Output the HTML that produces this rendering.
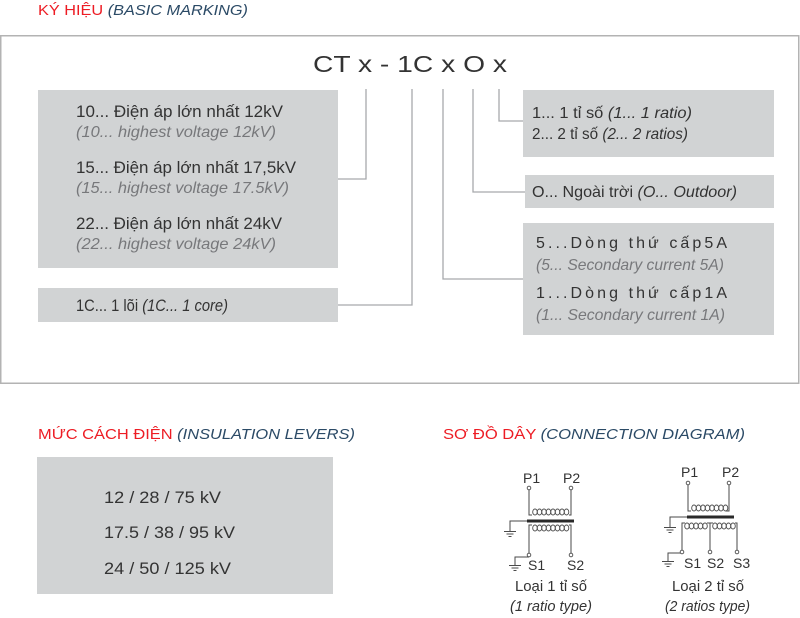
<!DOCTYPE html>
<html>
<head>
<meta charset="utf-8">
<style>
  html,body{margin:0;padding:0;background:#fff;}
  svg{display:block;font-family:"Liberation Sans","Noto Sans CJK SC",sans-serif;}
  .red{fill:#ed1c24;}
  .blue{fill:#2b4a66;font-style:italic;}
  .dk{fill:#333;}
  .gr{fill:#77787b;font-style:italic;}
  .it{font-style:italic;}
  .box{fill:#d1d3d4;}
  .cn{fill:none;stroke:#a7a9ac;stroke-width:1.3;}
  .w{fill:none;stroke:#4a4a4a;stroke-width:1;}
  .lp{fill:none;stroke:#4a4a4a;stroke-width:0.9;}
  .tm{fill:#fff;stroke:#4a4a4a;stroke-width:0.9;}
</style>
</head>
<body>
<svg width="800" height="618" viewBox="0 0 800 618" xmlns="http://www.w3.org/2000/svg">
  <!-- Header 1 -->
  <text x="38" y="15" font-size="15" textLength="210" lengthAdjust="spacingAndGlyphs"><tspan class="red">KÝ HIỆU </tspan><tspan class="blue">(BASIC MARKING)</tspan></text>

  <!-- Frame -->
  <rect x="0.75" y="35.75" width="798" height="347.5" fill="none" stroke="#b3b3b3" stroke-width="1.5"/>

  <!-- Title -->
  <text x="313" y="72" font-size="23" class="dk" textLength="194" lengthAdjust="spacingAndGlyphs">CT x - 1C x O x</text>

  <!-- Boxes -->
  <rect class="box" x="38" y="90" width="300" height="178"/>
  <rect class="box" x="38" y="288" width="300" height="34"/>
  <rect class="box" x="523" y="90" width="251" height="67"/>
  <rect class="box" x="525" y="175" width="249" height="33"/>
  <rect class="box" x="523" y="223" width="251" height="112"/>
  <rect class="box" x="37" y="457" width="296" height="137"/>

  <!-- Connectors -->
  <path class="cn" d="M366 89 V179 H338"/>
  <path class="cn" d="M412 89 V305 H338"/>
  <path class="cn" d="M443 89 V279 H523"/>
  <path class="cn" d="M473 89 V192 H525"/>
  <path class="cn" d="M499 89 V121 H523"/>

  <!-- Box A text -->
  <text x="76" y="117" font-size="17" class="dk" textLength="207" lengthAdjust="spacingAndGlyphs">10... Điện áp lớn nhất 12kV</text>
  <text x="76" y="137" font-size="16" class="gr" textLength="200" lengthAdjust="spacingAndGlyphs">(10... highest voltage 12kV)</text>
  <text x="76" y="173" font-size="17" class="dk" textLength="220" lengthAdjust="spacingAndGlyphs">15... Điện áp lớn nhất 17,5kV</text>
  <text x="76" y="193" font-size="16" class="gr" textLength="213" lengthAdjust="spacingAndGlyphs">(15... highest voltage 17.5kV)</text>
  <text x="76" y="229" font-size="17" class="dk" textLength="206" lengthAdjust="spacingAndGlyphs">22... Điện áp lớn nhất 24kV</text>
  <text x="76" y="249" font-size="16" class="gr" textLength="200" lengthAdjust="spacingAndGlyphs">(22... highest voltage 24kV)</text>

  <!-- Box B text -->
  <text x="76" y="311" font-size="17" class="dk" textLength="152" lengthAdjust="spacingAndGlyphs">1C... 1 lõi <tspan class="it">(1C... 1 core)</tspan></text>

  <!-- Box C text -->
  <text x="532" y="118" font-size="16" class="dk" textLength="160" lengthAdjust="spacingAndGlyphs">1... 1 tỉ số <tspan class="it">(1... 1 ratio)</tspan></text>
  <text x="532" y="139" font-size="16" class="dk" textLength="156" lengthAdjust="spacingAndGlyphs">2... 2 tỉ số <tspan class="it">(2... 2 ratios)</tspan></text>

  <!-- Box D text -->
  <text x="532" y="197" font-size="16" class="dk" textLength="205" lengthAdjust="spacingAndGlyphs">O... Ngoài trời <tspan class="it">(O... Outdoor)</tspan></text>

  <!-- Box E text -->
  <text x="536" y="248" font-size="16" class="dk" textLength="191" lengthAdjust="spacing">5...Dòng thứ cấp5A</text>
  <text x="536" y="270" font-size="16" class="gr" textLength="188" lengthAdjust="spacingAndGlyphs">(5... Secondary current 5A)</text>
  <text x="536" y="298" font-size="16" class="dk" textLength="191" lengthAdjust="spacing">1...Dòng thứ cấp1A</text>
  <text x="536" y="320" font-size="16" class="gr" textLength="189" lengthAdjust="spacingAndGlyphs">(1... Secondary current 1A)</text>

  <!-- Header 2 & 3 -->
  <text x="38" y="439" font-size="15" textLength="317" lengthAdjust="spacingAndGlyphs"><tspan class="red">MỨC CÁCH ĐIỆN </tspan><tspan class="blue">(INSULATION LEVERS)</tspan></text>
  <text x="443" y="439" font-size="15" textLength="302" lengthAdjust="spacingAndGlyphs"><tspan class="red">SƠ ĐỒ DÂY </tspan><tspan class="blue">(CONNECTION DIAGRAM)</tspan></text>

  <!-- Insulation text -->
  <text x="104" y="503" font-size="17" class="dk" textLength="117" lengthAdjust="spacingAndGlyphs">12 / 28 / 75 kV</text>
  <text x="104" y="538" font-size="17" class="dk" textLength="131" lengthAdjust="spacingAndGlyphs">17.5 / 38 / 95 kV</text>
  <text x="104" y="574" font-size="17" class="dk" textLength="127" lengthAdjust="spacingAndGlyphs">24 / 50 / 125 kV</text>

  <!-- Circuit 1 -->
  <g>
    <text x="523" y="483" font-size="14" class="dk">P1</text>
    <text x="563" y="483" font-size="14" class="dk">P2</text>
    <path class="w" d="M529 490 V515 H532 M571 490 V515 H569"/>
    <g class="lp">
      <ellipse cx="535" cy="512" rx="2.3" ry="3"/><ellipse cx="539.5" cy="512" rx="2.3" ry="3"/>
      <ellipse cx="544" cy="512" rx="2.3" ry="3"/><ellipse cx="548.5" cy="512" rx="2.3" ry="3"/>
      <ellipse cx="553" cy="512" rx="2.3" ry="3"/><ellipse cx="557.5" cy="512" rx="2.3" ry="3"/>
      <ellipse cx="562" cy="512" rx="2.3" ry="3"/><ellipse cx="566.5" cy="512" rx="2.3" ry="3"/>
    </g>
    <line x1="527" y1="521" x2="574" y2="521" stroke="#2a2a2a" stroke-width="3"/>
    <path class="w" d="M527 521 H510 V531 M504 531.5 H516 M506.5 534 H513.5 M508.5 536.5 H511.5"/>
    <g class="lp">
      <ellipse cx="535" cy="528" rx="2.3" ry="3"/><ellipse cx="539.5" cy="528" rx="2.3" ry="3"/>
      <ellipse cx="544" cy="528" rx="2.3" ry="3"/><ellipse cx="548.5" cy="528" rx="2.3" ry="3"/>
      <ellipse cx="553" cy="528" rx="2.3" ry="3"/><ellipse cx="557.5" cy="528" rx="2.3" ry="3"/>
      <ellipse cx="562" cy="528" rx="2.3" ry="3"/><ellipse cx="566.5" cy="528" rx="2.3" ry="3"/>
    </g>
    <path class="w" d="M532 525 H529 V553 M569 525 H571 V553"/>
    <path class="w" d="M529 557 H515 V565 M509 565.5 H521 M511.5 568 H518.5 M513.5 570.5 H516.5"/>
    <circle class="tm" cx="529" cy="488" r="1.8"/>
    <circle class="tm" cx="571" cy="488" r="1.8"/>
    <circle class="tm" cx="529" cy="555" r="1.8"/>
    <circle class="tm" cx="571" cy="555" r="1.8"/>
    <text x="528" y="570" font-size="14" class="dk">S1</text>
    <text x="567" y="570" font-size="14" class="dk">S2</text>
    <text x="515" y="591" font-size="15" class="dk" textLength="72" lengthAdjust="spacingAndGlyphs">Loại 1 tỉ số</text>
    <text x="510" y="611" font-size="15" class="dk it" textLength="82" lengthAdjust="spacingAndGlyphs">(1 ratio type)</text>
  </g>

  <!-- Circuit 2 -->
  <g>
    <text x="681" y="477" font-size="14" class="dk">P1</text>
    <text x="722" y="477" font-size="14" class="dk">P2</text>
    <path class="w" d="M688 485 V511 H691 M729 485 V511 H726"/>
    <g class="lp">
      <ellipse cx="694" cy="508" rx="2.3" ry="3"/><ellipse cx="698.5" cy="508" rx="2.3" ry="3"/>
      <ellipse cx="703" cy="508" rx="2.3" ry="3"/><ellipse cx="707.5" cy="508" rx="2.3" ry="3"/>
      <ellipse cx="712" cy="508" rx="2.3" ry="3"/><ellipse cx="716.5" cy="508" rx="2.3" ry="3"/>
      <ellipse cx="721" cy="508" rx="2.3" ry="3"/><ellipse cx="725.5" cy="508" rx="2.3" ry="3"/>
    </g>
    <line x1="687" y1="517" x2="734" y2="517" stroke="#2a2a2a" stroke-width="3"/>
    <path class="w" d="M687 517 H670 V527 M664 527.5 H676 M666.5 530 H673.5 M668.5 532.5 H671.5"/>
    <g class="lp">
      <ellipse cx="687" cy="526" rx="2.3" ry="3"/><ellipse cx="691.5" cy="526" rx="2.3" ry="3"/>
      <ellipse cx="696" cy="526" rx="2.3" ry="3"/><ellipse cx="700.5" cy="526" rx="2.3" ry="3"/>
      <ellipse cx="705" cy="526" rx="2.3" ry="3"/>
      <ellipse cx="715" cy="526" rx="2.3" ry="3"/><ellipse cx="719.5" cy="526" rx="2.3" ry="3"/>
      <ellipse cx="724" cy="526" rx="2.3" ry="3"/><ellipse cx="728.5" cy="526" rx="2.3" ry="3"/>
      <ellipse cx="733" cy="526" rx="2.3" ry="3"/>
    </g>
    <path class="w" d="M685 523 H682 V550 M707 523 H713 M710 523 V550 M735 523 H737 V550"/>
    <path class="w" d="M682 553 H668 V561 M662 561.5 H674 M664.5 564 H671.5 M666.5 566.5 H669.5"/>
    <circle class="tm" cx="688" cy="483" r="1.8"/>
    <circle class="tm" cx="729" cy="483" r="1.8"/>
    <circle class="tm" cx="682" cy="552" r="1.8"/>
    <circle class="tm" cx="710" cy="552" r="1.8"/>
    <circle class="tm" cx="737" cy="552" r="1.8"/>
    <text x="684" y="568" font-size="14" class="dk">S1</text>
    <text x="707" y="568" font-size="14" class="dk">S2</text>
    <text x="733" y="568" font-size="14" class="dk">S3</text>
    <text x="672" y="591" font-size="15" class="dk" textLength="72" lengthAdjust="spacingAndGlyphs">Loại 2 tỉ số</text>
    <text x="665" y="611" font-size="15" class="dk it" textLength="85" lengthAdjust="spacingAndGlyphs">(2 ratios type)</text>
  </g>
</svg>
</body>
</html>
